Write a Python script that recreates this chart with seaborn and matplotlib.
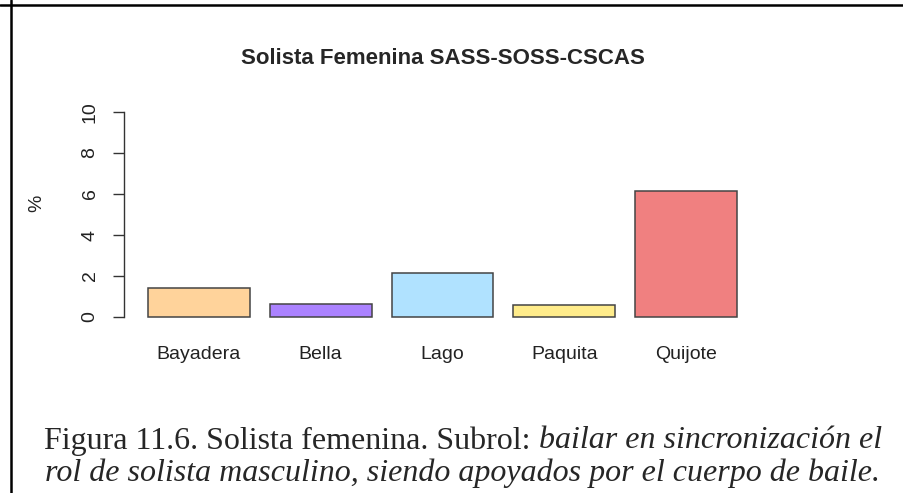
import matplotlib
matplotlib.use("Agg")
import matplotlib.pyplot as plt
import seaborn as sns
import pandas as pd
from matplotlib.lines import Line2D

categories = ["Bayadera", "Bella", "Lago", "Paquita", "Quijote"]
values = [1.42, 0.62, 2.15, 0.58, 6.15]
colors = ["#FFD39B", "#AB82FF", "#B0E2FF", "#FFEC8B", "#F08080"]
yticks = [0, 2, 4, 6, 8, 10]
title = "Solista Femenina SASS-SOSS-CSCAS"
ylabel = "%"
caption_l1_normal = "Figura 11.6. Solista femenina. Subrol: "
caption_l1_italic = "bailar en sincronización el"
caption_l2_italic = "rol de solista masculino, siendo apoyados por el cuerpo de baile."

sns.set_style("white")
plt.rcParams["font.family"] = ["Liberation Sans", "DejaVu Sans"]

W, H = 904, 493
fig = plt.figure(figsize=(W / 100, H / 100), dpi=100)
left, right, top, bottom = 123.6, 762.6, 103.8, 325.2
ax = fig.add_axes([left / W, 1 - bottom / H, (right - left) / W, (bottom - top) / H])

df = pd.DataFrame({"cat": categories, "val": values})
sns.barplot(data=df, x="cat", y="val", hue="cat", palette=colors, legend=False,
            width=0.836, edgecolor="#444444", linewidth=1.1, saturation=1, ax=ax)

ax.set_xlim(-0.615, 4.625)
ax.set_ylim(-0.4, 10.4)
for s in ["top", "right", "bottom"]:
    ax.spines[s].set_visible(False)
ax.spines["left"].set_bounds(0, 10)
ax.spines["left"].set_color("#333333")
ax.spines["left"].set_linewidth(1.0)
ax.set_yticks(yticks)
ax.set_yticklabels([str(t) for t in yticks], rotation=90, va="center", fontsize=14, color="#222222")
ax.tick_params(axis="y", length=8, width=1.0, color="#333333", pad=10, left=True)
ax.tick_params(axis="x", length=0, pad=15, labelsize=14, labelcolor="#222222")
ax.set_xlabel("")
ax.set_ylabel(ylabel, fontsize=14, color="#222222")
ax.yaxis.set_label_coords(-78 / (right - left), (bottom - 203) / (bottom - top))
ax.set_title(title, fontsize=16, fontweight="bold", pad=29)

# table cell borders
fig.add_artist(Line2D([0, 1], [1 - 5.3 / H, 1 - 5.3 / H], transform=fig.transFigure, color="black", lw=1.8))
fig.add_artist(Line2D([10.5 / W, 10.5 / W], [0, 1], transform=fig.transFigure, color="black", lw=1.8))

# caption
serif = ["Liberation Serif", "DejaVu Serif"]
fs = 23
renderer = fig.canvas.get_renderer()
cx = 463 / W
y1 = 1 - 441 / H
y2 = 1 - 473 / H
t1 = fig.text(0, y1, caption_l1_normal, family=serif, fontsize=fs, va="center", ha="left")
t2 = fig.text(0, y1, caption_l1_italic, family=serif, fontsize=fs, style="italic", va="center", ha="left")
w1 = t1.get_window_extent(renderer).width / W
w2 = t2.get_window_extent(renderer).width / W
x0 = cx - (w1 + w2) / 2
t1.set_x(x0)
t2.set_x(x0 + w1)
fig.text(cx, y2, caption_l2_italic, family=serif, fontsize=fs, style="italic", va="center", ha="center")

fig.savefig("out.png", dpi=100)
